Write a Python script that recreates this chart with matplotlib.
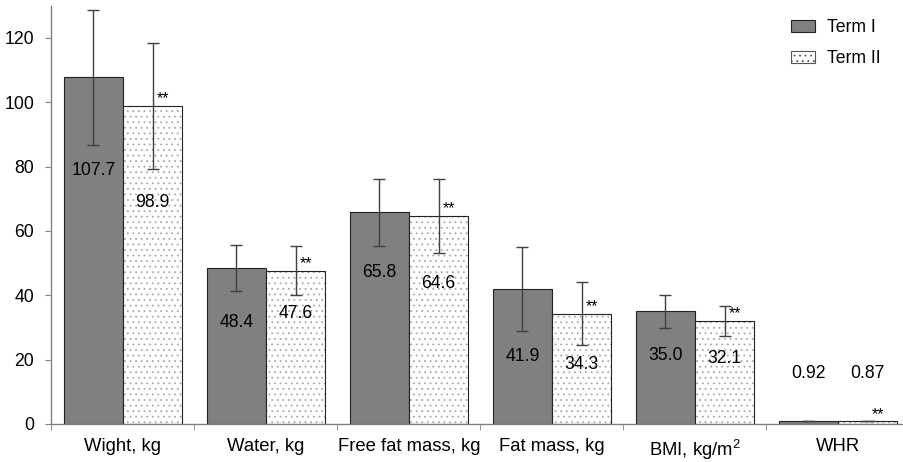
import matplotlib
matplotlib.use('Agg')
import matplotlib.pyplot as plt
import numpy as np
from matplotlib.patches import Patch

# Dados
categorias = ['Wight, kg', 'Water, kg', 'Free fat mass, kg', 'Fat mass, kg', 'BMI, kg/m$^2$', 'WHR']
term1 = [107.7, 48.4, 65.8, 41.9, 35.0, 0.92]
term2 = [98.9, 47.6, 64.6, 34.3, 32.1, 0.87]
erro1 = [21.0, 7.2, 10.4, 13.0, 5.2, 0.07]
erro2 = [19.6, 7.6, 11.4, 9.7, 4.7, 0.06]
rotulos1 = ['107.7', '48.4', '65.8', '41.9', '35.0', '0.92']
rotulos2 = ['98.9', '47.6', '64.6', '34.3', '32.1', '0.87']
significancia = ['**', '**', '**', '**', '**', '**']

# altura (em unidades do eixo y) onde cada rotulo foi colocado
pos_rotulo1 = [78.8, 31.5, 47.2, 20.9, 21.4, 15.7]
pos_rotulo2 = [68.7, 34.3, 43.6, 18.5, 20.4, 15.7]

plt.rcParams['font.family'] = ['Liberation Sans', 'DejaVu Sans']
plt.rcParams['mathtext.fontset'] = 'custom'
plt.rcParams['mathtext.rm'] = 'Liberation Sans'
plt.rcParams['hatch.linewidth'] = 0.6

fs = 12.7
fig = plt.figure(figsize=(9.04, 4.62), dpi=100)
ax = fig.add_axes([51.5 / 904, 38 / 462, 858 / 904, 418.3 / 462])

x = np.arange(len(categorias))
w = 0.4126
x1 = x - w / 2
x2 = x + w / 2

# barras Term I
ax.bar(x1, term1, w, color='#808080', edgecolor='#222222', linewidth=0.8, zorder=2)

# barras Term II: pontilhado cinza + contorno preto
ax.bar(x2, term2, w, color='white', edgecolor='#a8a8a8', hatch='...', linewidth=0, zorder=2)
ax.bar(x2, term2, w, fill=False, edgecolor='#222222', linewidth=0.8, zorder=2.1)

# barras de erro
ax.errorbar(x1, term1, yerr=erro1, fmt='none', ecolor='#404040', elinewidth=1,
            capsize=4.3, capthick=1, zorder=3)
ax.errorbar(x2, term2, yerr=erro2, fmt='none', ecolor='#404040', elinewidth=1,
            capsize=4.3, capthick=1, zorder=3)

# rotulos dos valores
for i in range(len(categorias)):
    ax.text(x1[i], pos_rotulo1[i], rotulos1[i], ha='center', va='center', fontsize=fs, zorder=4)
    ax.text(x2[i], pos_rotulo2[i], rotulos2[i], ha='center', va='center', fontsize=fs, zorder=4)
    ax.annotate(significancia[i], xy=(x2[i], term2[i]), xytext=(11, 2.5),
                textcoords='offset pixels', ha='center', va='baseline', fontsize=11.5, zorder=4)

# eixos
ax.set_xlim(-0.5, len(categorias) - 0.5)
ax.set_ylim(0, 130)
ax.set_yticks(np.arange(0, 121, 20))
ax.set_xticks(x)
ax.set_xticklabels(categorias, fontsize=13.3)
ax.set_xticks(np.arange(-0.5, len(categorias), 1), minor=True)
ax.tick_params(axis='x', which='major', length=0, pad=10)
ax.tick_params(axis='x', which='minor', length=4, direction='out', color='#808080')
ax.tick_params(axis='y', length=4, direction='out', color='#808080', pad=8.5, labelsize=fs)

for s in ['top', 'right']:
    ax.spines[s].set_visible(False)
for s in ['left', 'bottom']:
    ax.spines[s].set_color('#808080')
    ax.spines[s].set_linewidth(1)

# legenda
handles = [Patch(facecolor='#808080', edgecolor='#222222', linewidth=0.8, label='Term I'),
           Patch(facecolor='white', edgecolor='#555555', linewidth=0.8, hatch='...', label='Term II')]
fig.legend(handles=handles, loc='upper left', bbox_to_anchor=(791 / 904, 1 - 19 / 462),
           frameon=False, fontsize=fs, borderpad=0, borderaxespad=0,
           handlelength=1.35, handleheight=0.7, handletextpad=0.7, labelspacing=0.8)

fig.savefig('out.png', dpi=100)
